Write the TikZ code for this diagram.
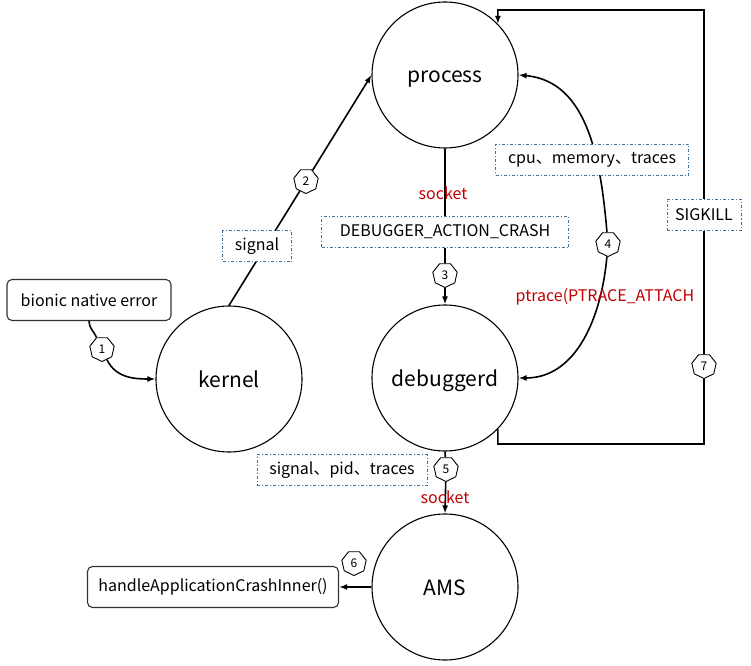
\documentclass[tikz,border=0pt]{standalone}
\usepackage{fontspec}
\setmainfont{Noto Sans CJK SC}
\usetikzlibrary{shapes.geometric,arrows.meta,backgrounds}
\definecolor{tagblue}{HTML}{41719C}
\definecolor{sockred}{HTML}{C00000}

\begin{document}
\begin{tikzpicture}[x=1pt,y=1pt,
    >={Latex[length=8pt,width=6pt]},
    circ/.style={circle,draw,line width=1.1pt,minimum size=146pt,inner sep=0pt,fill=white,
        text height=17pt,text depth=1pt,font=\fontsize{21}{24}\selectfont},
    rbox/.style={draw=black!80,rounded corners=5pt,line width=1.1pt,minimum height=41pt,
        fill=white,font=\fontsize{16}{19}\selectfont},
    tag/.style={draw=tagblue,dash pattern=on 3pt off 2pt on 1pt off 2pt,line width=0.9pt,
        fill=white,minimum height=31pt,font=\fontsize{16}{19}\selectfont},
    num/.style={regular polygon,regular polygon sides=7,shape border rotate=180,draw,
        line width=0.9pt,fill=white,inner sep=0pt,minimum size=25pt,
        font=\fontsize{12}{14}\selectfont},
    red/.style={text=sockred,font=\fontsize{16}{19}\selectfont},
    link/.style={line width=1.6pt}]
    \useasboundingbox (0,0) rectangle (751,665);

    % main blocks
    \node[circ] (process) at (445,590) {process};
    \node[circ] (kernel) at (229,286) {kernel};
    \node[circ] (debuggerd) at (445,287) {debuggerd};
    \node[circ] (ams) at (445,78) {AMS};
    \node[rbox,minimum width=164pt] (bionic) at (89,365) {bionic native error};
    \node[rbox,minimum width=251pt] (handle) at (213,78) {handleApplicationCrashInner()};

    % step markers
    \node[num] (m1) at (102,316) {1};
    \node[num] (m2) at (306,484) {2};
    \node[num] (m3) at (445,390) {3};
    \node[num] (m4) at (608,421) {4};
    \node[num] (m5) at (446,196) {5};
    \node[num] (m6) at (354,102) {6};
    \node[num] (m7) at (704,299) {7};

    % labels
    \node[tag,minimum width=69pt] (lsignal) at (257,419) {signal};
    \node[tag,minimum width=247pt] (laction) at (445,433) {DEBUGGER\_ACTION\_CRASH\hspace{8pt}};
    \node[tag,minimum width=193pt] (ltraces) at (592,505) {cpu、memory、traces};
    \node[tag,minimum width=74pt] (lkill) at (704,450) {SIGKILL};
    \node[tag,minimum width=170pt] (lpid) at (342,195) {signal、pid、traces};
    \node[red] (lptrace) at (605,368) {ptrace(PTRACE\_ATTACH};
    \node[red] (lsock1) at (443,472) {socket};
    \node[red] (lsock2) at (445,168) {socket};

    \coordinate (c7a) at (704,221);
    \coordinate (c7b) at (704,655);

    \begin{scope}[on background layer]
        \draw[link,->] (bionic.south) to[out=-90,in=115] (m1) to[out=-65,in=180] (kernel.west);
        \draw[link] (kernel.north) -- (m2);
        \draw[link,->] (m2) -- (process.west);
        \draw[link] (process.south) -- (m3);
        \draw[link,->] (m3) -- (debuggerd.north);
        \draw[link,<-] (process.east) to[out=-5,in=95] (m4);
        \draw[link,->] (m4) to[out=-95,in=0] (debuggerd.east);
        \draw[link] (debuggerd.south) -- (m5);
        \draw[link,->] (m5) -- (ams.north);
        \draw[link,->] (ams.west) -- (handle.east);
        \draw[link] (debuggerd.-44) |- (c7a) -- (m7);
        \draw[link,->] (m7) -- (c7b) -| (process.44);
    \end{scope}
\end{tikzpicture}
\end{document}
